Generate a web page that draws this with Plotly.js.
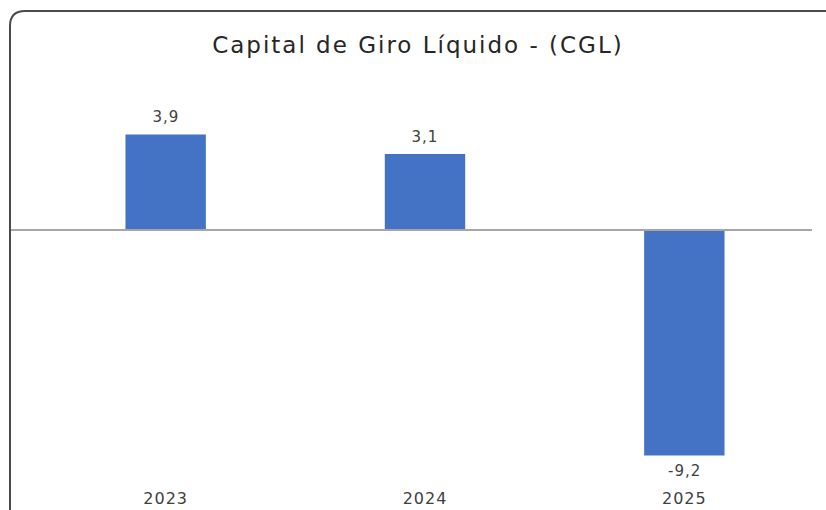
<!DOCTYPE html>
<html>
<head>
<meta charset="utf-8">
<script src="https://cdn.plot.ly/plotly-3.0.1.min.js"></script>
<style>html,body{margin:0;padding:0;background:#fff;}#chart{width:826px;height:510px;}
#chart .gtitle{letter-spacing:2px;}
#chart .xtick text, #chart .annotation-text{letter-spacing:1px;}
</style>
</head>
<body>
<div id="chart"></div>
<script>
const categories = ["2023", "2024", "2025"];
const values = [3.9, 3.1, -9.2];
const chartTitle = "Capital de Giro Líquido - (CGL)";

const W = 826, H = 510;
const M = {l: 36, r: 12, t: 107, b: 23};
const pw = W - M.l - M.r, ph = H - M.t - M.b;
const px = x => (x - M.l) / pw;
const py = y => (H - M.b - y) / ph;

const FONT = 'DejaVu Sans, sans-serif';
const labels = values.map(v => v.toFixed(1).replace('.', ','));

const trace = {
  type: 'bar',
  x: categories,
  y: values,
  width: 0.31,
  marker: {color: '#4472C4'},
  hoverinfo: 'none'
};

const annotations = categories.map((c, i) => ({
  x: i, y: values[i], xref: 'x', yref: 'y',
  text: labels[i], showarrow: false,
  yanchor: values[i] >= 0 ? 'bottom' : 'top',
  yshift: values[i] >= 0 ? 6 : -5,
  font: {family: FONT, size: 15, color: '#404040'}
}));

const framePath = `M ${px(10)} ${py(520)} L ${px(10)} ${py(26)} Q ${px(10)} ${py(11)} ${px(25)} ${py(11)} L ${px(830)} ${py(11)}`;

const layout = {
  width: W, height: H,
  margin: M,
  paper_bgcolor: '#ffffff',
  plot_bgcolor: '#ffffff',
  showlegend: false,
  title: {text: chartTitle, x: 0.506, xanchor: 'center', y: 1 - 45 / H, yanchor: 'middle',
          font: {family: FONT, size: 23, color: '#262626'}},
  xaxis: {type: 'category', range: [-0.5, 2.5], showgrid: false, zeroline: false, showline: false,
          ticks: '', tickfont: {family: FONT, size: 16, color: '#404040'}, fixedrange: true},
  yaxis: {range: [-10.49, 5.02], showgrid: false, zeroline: false, showline: false,
          showticklabels: false, ticks: '', fixedrange: true},
  annotations: annotations,
  shapes: [
    {type: 'line', xref: 'paper', yref: 'y', x0: px(10), x1: px(812), y0: 0, y1: 0,
     line: {color: '#a6a6a6', width: 2}, layer: 'above'},
    {type: 'path', xref: 'paper', yref: 'paper', path: framePath,
     line: {color: '#4a4a4a', width: 2}}
  ]
};

Plotly.newPlot('chart', [trace], layout, {displayModeBar: false, staticPlot: true});
</script>
</body>
</html>
